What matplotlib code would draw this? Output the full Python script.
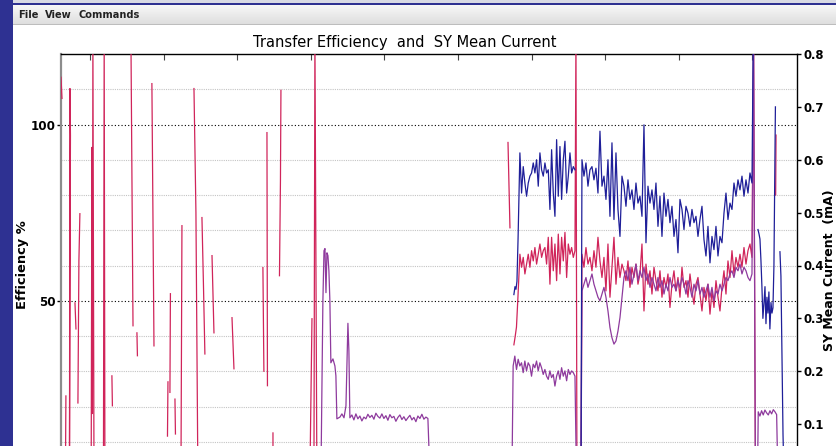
import numpy as np
import matplotlib
matplotlib.use('Agg')
import matplotlib.pyplot as plt
from matplotlib.patches import Rectangle

nan = np.nan

# ---- data: time in minutes, efficiency in %, current in mA ----

# injection efficiency spikes during tuning (NaN = no reading)
red_spike_t = [
    -23.6, -22.8, nan,
    -20.0, -19.6, nan,
    -16.7, -16.3, -15.9, -16.3, -16.7, nan,
    -12.2, -11.4, nan,
    -9.8, -9.0, -8.2, nan,
    1.0, 1.6, 2.0, 2.4, 3.3, nan,
    11.0, 11.6, 12.2, nan,
    17.9, 18.3, nan,
    33.4, 35.1, nan,
    38.3, 38.7, nan,
    50.5, 51.3, 52.2, nan,
    65.6, 65.2, nan,
    63.6, 63.2, nan,
    69.3, 69.7, nan,
    75.0, 74.6, 74.2, nan,
    84.8, 86.4, 88.0, nan,
    91.3, 92.5, 93.7, nan,
    99.5, 100.3, 101.1, nan,
    115.8, 117.4, nan,
    141.0, 141.8, nan,
    144.3, 144.7, nan,
    149.2, 149.2, nan,
    155.7, 155.3, 154.5, nan,
    179.3, 181.0, nan,
    182.6, 183.4, 185.0, nan,
    340.8, 342.4, nan,
    559.0, 559.3]
red_spike_pct = [
    113.4, 107.4, nan,
    0.0, 23.0, nan,
    0.0, 110.2, 96.9, 57.1, 0.0, nan,
    49.4, 42.0, nan,
    21.0, 61.4, 74.7, nan,
    0.0, 93.5, 18.0, 125.0, 0.0, nan,
    0.0, 125.0, 0.0, nan,
    28.7, 20.2, nan,
    125.0, 42.9, nan,
    40.9, 34.4, nan,
    111.6, 75.0, 37.2, nan,
    52.0, 24.0, nan,
    27.0, 11.6, nan,
    22.1, 12.2, nan,
    71.3, 40.0, 0.0, nan,
    110.2, 75.0, 0.0, nan,
    73.6, 55.0, 34.9, nan,
    62.8, 52.0, 40.9, nan,
    45.2, 30.7, nan,
    59.4, 30.0, nan,
    97.7, 25.9, nan,
    0.0, 12.5, nan,
    109.7, 84.0, 57.1, nan,
    0.0, 44.9, nan,
    0.0, 125.0, 0.0, nan,
    94.9, 70.7, nan,
    80.0, 97.0]

# stable running, first fill (34 samples) and second fill (86 samples)
run1_t = (350.5, 395.4, 34)
run2_t = (401.1, 539.7, 86)

red_run1 = [63.2, 59.5, 62.3, 57.6, 60.4, 63.2, 59.5, 64.2, 61.3, 65.1, 60.4, 63.2,
            66.1, 62.3, 64.2, 65.1, 60.4, 68.0, 54.7, 68.0, 58.5, 66.1, 55.7, 68.9,
            57.6, 68.0, 61.3, 69.4, 56.6, 66.1, 63.2, 65.1, 62.3, 64.2]
red_run2 = [63.2, 59.5, 65.1, 60.4, 62.3, 58.5, 64.2, 59.5, 68.0, 61.3, 56.6, 62.3,
            52.8, 66.1, 51.0, 59.5, 68.0, 54.7, 62.3, 56.6, 60.4,
            58.5, 55.7, 61.3, 53.8, 59.5, 56.6, 60.4, 54.7, 57.6, 66.1, 47.1,
            60.4, 54.7, 58.5, 51.9, 59.5, 55.7, 52.8, 58.5, 51.0, 56.6, 53.8, 57.6, 48.1, 54.7,
            58.5, 52.8, 56.6, 51.0, 59.5, 53.8, 55.7, 51.0, 57.6, 52.8, 49.0, 54.7, 56.6, 51.9, 47.1, 53.8,
            50.0, 54.7, 46.2, 52.8, 48.1, 55.7, 51.0, 47.1, 53.8,
            58.5, 51.9, 61.3, 56.6, 64.2, 57.6, 62.3, 59.5,
            63.2, 59.5, 65.1, 60.4, 64.2, 66.1, 62.3]
red_lead_t = [345.6, 346.5, 347.7, 348.9]
red_lead_pct = [37.5, 39.5, 42.5, 51.0]
red_gap_t = [396.2, 397.0, 400.3]
red_gap_pct = [125.0, 0.0, 0.0]
red_tail_t = [541.0, 542.5]
red_tail_pct = [125.0, 0.0]

blue_run1 = [0.613, 0.537, 0.587, 0.556, 0.531, 0.556, 0.569, 0.575, 0.594, 0.575, 0.600, 0.550,
             0.613, 0.581, 0.569, 0.594, 0.575, 0.581, 0.506, 0.619, 0.537, 0.493, 0.638, 0.531,
             0.625, 0.525, 0.600, 0.635, 0.537, 0.569, 0.613, 0.575, 0.587, 0.581]
blue_run2 = [0.600, 0.569, 0.594, 0.550, 0.581, 0.587, 0.562, 0.584, 0.537, 0.654, 0.550, 0.569,
             0.525, 0.600, 0.493, 0.632, 0.487, 0.613, 0.506, 0.455, 0.569,
             0.550, 0.512, 0.562, 0.525, 0.543, 0.506, 0.556, 0.518, 0.531, 0.493, 0.666,
             0.443, 0.550, 0.518, 0.543, 0.506, 0.556, 0.474, 0.531, 0.455, 0.537, 0.493, 0.525, 0.481, 0.512,
             0.455, 0.487, 0.424, 0.525, 0.506, 0.468, 0.512, 0.499, 0.474, 0.506, 0.481, 0.493, 0.455, 0.487, 0.512, 0.449,
             0.418, 0.474, 0.405, 0.455, 0.430, 0.474, 0.418, 0.455, 0.443,
             0.499, 0.537, 0.487, 0.518, 0.506, 0.556, 0.531, 0.562,
             0.543, 0.569, 0.531, 0.562, 0.537, 0.575, 0.556]
blue_lead_t = [345.6, 346.5, 347.3, 348.1, 349.0]
blue_lead_ma = [0.345, 0.360, 0.355, 0.370, 0.450]
blue_gap_t = [nan, 400.3]
blue_gap_ma = [nan, 0.0]
blue_tail_t = [540.8, nan,
               544.6, 545.4, 546.2, 547.0, 547.8, 548.6, 549.5, 550.3, 551.1, 551.9,
               552.7, 553.5, 554.3, 555.2, 556.0, 556.8, 557.6, 558.8, nan,
               562.5, 563.3, 565.0, 565.8]
blue_tail_ma = [0.85, nan,
                0.468, 0.460, 0.450, 0.410, 0.360, 0.300, 0.330, 0.360, 0.290, 0.340,
                0.310, 0.350, 0.280, 0.330, 0.310, 0.320, 0.400, 0.700, nan,
                0.426, 0.380, 0.080, 0.0]

# extraction efficiency
purple_peak_t = [188.3, 189.9, 190.8, 191.6, 192.4, 193.2, 194.0, 194.8, 195.6, 196.4,
                 198.1, 199.7, 200.5, 201.3, 203.8, 205.4, 207.1, 208.7, 210.3, 211.1]
purple_peak_pct = [0.0, 50.0, 64.2, 64.8, 52.3, 63.6, 62.8, 58.5, 50.0, 32.4,
                   33.5, 31.5, 28.7, 16.5, 17.0, 17.9, 16.8, 20.2, 43.6, 35.8]
purple_low_t = (211.9, 275.5, 40)
purple_low = [16.8, 17.6, 16.2, 17.9, 16.5, 17.3, 15.9, 17.0, 16.5, 17.8, 16.9, 17.5, 16.4, 18.1,
              17.2, 16.7, 17.9, 16.6, 17.4, 16.1, 17.7, 16.8, 17.2, 15.8, 16.9, 17.6, 16.3, 17.1,
              16.0, 16.8, 17.5, 16.2, 16.9, 15.7, 17.3, 16.6, 17.8, 16.4, 17.0, 16.6]
purple_run1_t = (345.0, 395.4, 38)
purple_run1 = [31.5, 34.3, 30.5, 33.4, 31.5, 32.4, 29.6, 32.9, 30.1, 32.4, 31.5, 28.6, 32.0,
               31.0, 32.9, 30.1, 32.4, 31.0, 29.1, 30.5, 28.6, 27.7, 30.1, 28.2, 29.1, 25.8,
               28.6, 30.1, 27.7, 31.0, 28.6, 30.1, 27.3, 30.5, 29.1, 30.1, 29.6, 28.6]
purple_run2 = [52.8, 54.7, 56.6, 53.8, 55.7, 57.6, 54.7, 52.8, 51.0, 50.0, 51.9, 53.8,
               51.0, 47.1, 42.4, 39.5, 37.7, 38.6, 41.4, 45.2, 51.0,
               56.6, 58.5, 55.7, 59.5, 54.7, 57.6, 60.4, 55.7, 58.5, 56.6, 59.5,
               55.7, 57.6, 53.8, 56.6, 54.7, 52.8, 56.6, 53.8, 55.7, 51.9, 54.7, 52.8, 56.6, 53.8,
               54.7, 52.8, 55.7, 53.8, 56.6, 54.7, 51.9, 55.7, 53.8, 51.0, 54.7, 52.8, 55.7, 51.9, 53.8, 51.0,
               52.8, 54.7, 51.0, 53.8, 50.0, 52.8, 51.9, 54.7, 52.8,
               54.7, 56.6, 55.7, 57.6, 58.5, 56.6, 59.5, 58.5,
               60.4, 57.6, 59.5, 58.5, 56.6, 55.7, 57.6]
purple_end_t = (544.8, 559.8, 12)
purple_end = [18.5, 17.3, 18.8, 17.6, 19.0, 18.2, 17.6, 18.8, 17.9, 19.1, 18.5, 17.7]


def grid_t(spec):
    return np.linspace(*spec)


red_t = np.concatenate([red_spike_t, [nan], red_lead_t, grid_t(run1_t), red_gap_t,
                        grid_t(run2_t), red_tail_t])
red_y = np.concatenate([red_spike_pct, [nan], red_lead_pct, red_run1, red_gap_pct,
                        red_run2, red_tail_pct])

blue_t = np.concatenate([blue_lead_t, grid_t(run1_t), blue_gap_t, grid_t(run2_t), blue_tail_t])
blue_y = np.concatenate([blue_lead_ma, blue_run1, blue_gap_ma, blue_run2, blue_tail_ma])

purple_t = np.concatenate([purple_peak_t, grid_t(purple_low_t), [277.2, 344.0],
                           grid_t(purple_run1_t), [396.6, 400.3], grid_t(run2_t),
                           [541.0, 542.5, 544.2], grid_t(purple_end_t), [560.8]])
purple_y = np.concatenate([purple_peak_pct, purple_low, [0.0, 0.0],
                           purple_run1, [0.0, 0.0], purple_run2,
                           [125.0, 0.0, 0.0], purple_end, [0.0]])

# ---- figure ----
W, H = 837, 446
fig = plt.figure(figsize=(W / 100, H / 100), dpi=100)
fig.patch.set_facecolor('white')


def box(x0, y0, x1, y1):
    # pixel box (top-left origin) -> figure fraction rect
    return [x0 / W, 1 - y1 / H, (x1 - x0) / W, (y1 - y0) / H]


def band(x0, y0, x1, y1, color):
    l, b, w, h = box(x0, y0, x1, y1)
    fig.patches.append(Rectangle((l, b), w, h, transform=fig.transFigure,
                                 facecolor=color, edgecolor='none', zorder=0))


# window frame and menu bar
band(0, 0, 13, H, '#2e3192')
band(13, 0, W, 3, '#d8dae4')
band(13, 3, W, 5, '#2e3192')
menu = fig.add_axes(box(13, 5, W, 24))
menu.imshow(np.linspace(0.97, 0.87, 20)[:, None], cmap='gray', vmin=0, vmax=1,
            aspect='auto', interpolation='bilinear')
menu.axis('off')
band(13, 24, W, 25, '#bdbdbd')
for label, x in [('File', 18), ('View', 45), ('Commands', 79)]:
    fig.text(x / W, 1 - 14.5 / H, label, fontsize=7.1, fontweight='bold',
             color='#222222', ha='left', va='center')

ax = fig.add_axes(box(61, 54, 797, 477))
ax2 = ax.twinx()

ax.plot(red_t, red_y, color='#d0245a', lw=0.9, zorder=3)
ax.plot(purple_t, purple_y, color='#8e3a9d', lw=0.9, zorder=4)
ax2.plot(blue_t, blue_y, color='#1f1f99', lw=0.9)

ax.set_xlim(-23.6, 576.4)
ax.set_ylim(0, 120)
ax2.set_ylim(0, 0.8)

ax.set_xticks(np.arange(0, 541, 60))
ax.tick_params(axis='x', top=True, bottom=False, labeltop=False, labelbottom=False,
               direction='in', length=4, width=0.8, color='#444444')

ax.set_yticks([50, 100])
ax.set_yticklabels(['50', '100'], fontweight='bold')
ax.set_yticks(np.arange(10, 120, 10), minor=True)
ax.tick_params(axis='y', which='major', direction='out', length=3, width=1,
               labelsize=8.6, pad=1)
ax.tick_params(axis='y', which='minor', length=0)
ax.grid(which='minor', axis='y', color='#c4c4c4', linestyle=(0, (1, 1)), lw=0.8)
ax.grid(which='major', axis='y', color='black', linestyle=(0, (1, 2)), lw=0.8)

ticks_ma = [0.1, 0.2, 0.3, 0.4, 0.5, 0.6, 0.7, 0.8]
ax2.set_yticks(ticks_ma)
ax2.set_yticklabels(['%.1f' % v for v in ticks_ma], fontweight='bold')
ax2.tick_params(axis='y', direction='out', length=3, width=1, labelsize=8.4, pad=1.5)

ax.spines['left'].set_color('#8c8c8c')
ax.spines['left'].set_linewidth(1.6)
ax.spines['top'].set_linewidth(1.0)
ax.spines['right'].set_visible(False)
ax2.spines['left'].set_visible(False)
ax2.spines['top'].set_visible(False)
ax2.spines['right'].set_linewidth(1.0)

fig.text(405 / W, 1 - 42 / H, 'Transfer Efficiency  and  SY Mean Current',
         fontsize=10.5, ha='center', va='center')
fig.text(23 / W, 1 - 265 / H, 'Efficiency %', rotation=90, fontsize=9.4,
         fontweight='bold', ha='center', va='center')
fig.text(830 / W, 1 - 270 / H, 'SY Mean Current  (mA)', rotation=90, fontsize=9.0,
         fontweight='bold', ha='center', va='center')

fig.savefig('out.png', dpi=100)
